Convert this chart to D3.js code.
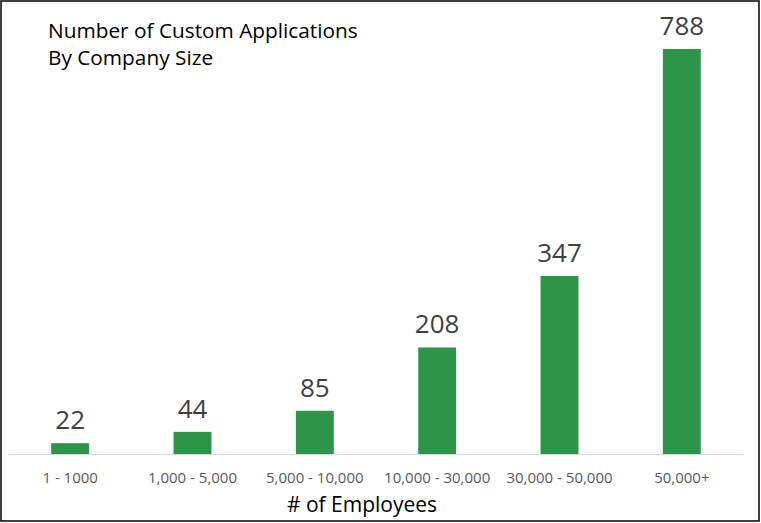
<!DOCTYPE html>
<html><head><meta charset="utf-8">
<script src="https://cdn.jsdelivr.net/npm/d3@7"></script>
<style>html,body{margin:0;padding:0;background:#fff;}svg{display:block;}</style>
</head><body>
<script>
const categories = ["1 - 1000", "1,000 - 5,000", "5,000 - 10,000", "10,000 - 30,000", "30,000 - 50,000", "50,000+"];
const values = [22, 44, 85, 208, 347, 788];
const titleLines = ["Number of Custom Applications", "By Company Size"];
const xAxisTitle = "# of Employees";

const W = 761, H = 523;
const svg = d3.select("body").append("svg").attr("width", W).attr("height", H);
svg.append("rect").attr("x", 1).attr("y", 1).attr("width", W - 3).attr("height", H - 3)
  .attr("fill", "#fff").attr("stroke", "#000").attr("stroke-width", 1.5);

const font = "'Open Sans', 'Noto Sans', sans-serif";
const x = d3.scaleBand().domain(categories).range([9, 743]).paddingInner(0.69).paddingOuter(0.345);
const y = d3.scaleLinear().domain([0, 788]).range([454.5, 49]);

svg.append("g").selectAll("rect").data(values).join("rect")
  .attr("x", (d, i) => x(categories[i]))
  .attr("y", d => y(d))
  .attr("width", x.bandwidth())
  .attr("height", d => y(0) - y(d))
  .attr("fill", "#2E9449");

svg.append("line").attr("x1", 9).attr("x2", 743).attr("y1", 454.5).attr("y2", 454.5)
  .attr("stroke", "#d9d9d9").attr("stroke-width", 1);

svg.append("g").selectAll("text").data(values).join("text")
  .attr("x", (d, i) => x(categories[i]) + x.bandwidth() / 2)
  .attr("y", d => y(d) - 14)
  .attr("text-anchor", "middle")
  .attr("font-family", font).attr("font-size", 26).attr("fill", "#404040")
  .text(d => d);

svg.append("g").selectAll("text").data(categories).join("text")
  .attr("x", d => x(d) + x.bandwidth() / 2)
  .attr("y", 483)
  .attr("text-anchor", "middle")
  .attr("font-family", font).attr("font-size", 15).attr("fill", "#595959")
  .text(d => d);

svg.append("text").attr("x", 362).attr("y", 512).attr("text-anchor", "middle")
  .attr("font-family", font).attr("font-size", 21).attr("fill", "#000").text(xAxisTitle);

svg.append("g").selectAll("text").data(titleLines).join("text")
  .attr("x", 48).attr("y", (d, i) => 38 + i * 27)
  .attr("font-family", font).attr("font-size", 20.8).attr("fill", "#000")
  .text(d => d);
</script>
</body></html>
